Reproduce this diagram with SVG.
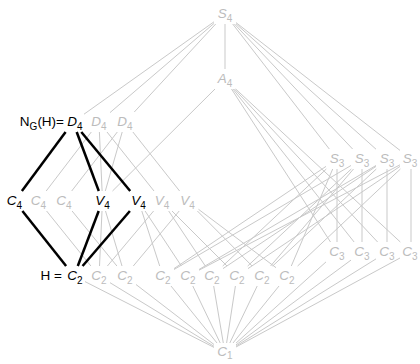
<svg xmlns="http://www.w3.org/2000/svg" width="420" height="364" viewBox="0 0 420 364">
<style>
text{font-family:"Liberation Sans","DejaVu Sans",sans-serif;font-size:13.5px;text-anchor:middle;fill:#bcbcbc}
text.k{fill:#000}
.m{font-style:italic}
.s{font-size:10px;font-style:normal}
#edges line{stroke:#c9c9c9;stroke-width:1}
#edges line.b{stroke:#000;stroke-width:2.5}
</style>
<rect width="420" height="364" fill="#fff"/>
<g id="edges">
<line x1="225" y1="24" x2="225" y2="69"/>
<line x1="214" y1="21.8" x2="84" y2="114.2"/>
<line x1="214" y1="23.4" x2="110" y2="112.6"/>
<line x1="215.7" y1="24" x2="134.3" y2="112"/>
<line x1="232.7" y1="24" x2="329.3" y2="149"/>
<line x1="234.4" y1="24" x2="352.6" y2="149"/>
<line x1="236" y1="23.8" x2="376" y2="149.2"/>
<line x1="236" y1="22.6" x2="400" y2="150.4"/>
<line x1="215" y1="89" x2="112.5" y2="191"/>
<line x1="231.5" y1="89" x2="330.5" y2="242"/>
<line x1="232.9" y1="89" x2="354.1" y2="242"/>
<line x1="234.4" y1="89" x2="377.6" y2="242"/>
<line x1="235.7" y1="89" x2="400.3" y2="242"/>
<line x1="91.3" y1="132" x2="46.2" y2="191"/>
<line x1="99.4" y1="132" x2="102.1" y2="191"/>
<line x1="107" y1="132" x2="154" y2="191"/>
<line x1="117.3" y1="132" x2="71.7" y2="191"/>
<line x1="122.2" y1="132" x2="105.3" y2="191"/>
<line x1="132.9" y1="132" x2="179.6" y2="191"/>
<line x1="337" y1="169" x2="337" y2="242"/>
<line x1="362" y1="169" x2="362" y2="242"/>
<line x1="387" y1="169" x2="387" y2="242"/>
<line x1="411" y1="169" x2="411" y2="242"/>
<line x1="326" y1="166.4" x2="174" y2="268.6"/>
<line x1="326.3" y1="169" x2="222.7" y2="266"/>
<line x1="332.7" y1="169" x2="291.3" y2="266"/>
<line x1="351" y1="165.5" x2="174" y2="269.5"/>
<line x1="351.3" y1="169" x2="247.7" y2="266"/>
<line x1="353.5" y1="169" x2="270.6" y2="266"/>
<line x1="376" y1="165.5" x2="199" y2="269.5"/>
<line x1="376" y1="166.4" x2="223" y2="268.6"/>
<line x1="376.3" y1="169" x2="272.7" y2="266"/>
<line x1="400" y1="164.8" x2="199" y2="270.2"/>
<line x1="400" y1="166.4" x2="248" y2="268.6"/>
<line x1="400.4" y1="169" x2="297.6" y2="266"/>
<line x1="46.6" y1="211" x2="90.9" y2="266"/>
<line x1="72.1" y1="211" x2="116.9" y2="266"/>
<line x1="102" y1="211" x2="99.5" y2="266"/>
<line x1="105.5" y1="211" x2="122" y2="266"/>
<line x1="141.8" y1="211" x2="159.7" y2="266"/>
<line x1="145.1" y1="211" x2="181.4" y2="266"/>
<line x1="153.6" y1="211" x2="107.4" y2="266"/>
<line x1="168.7" y1="211" x2="205.3" y2="266"/>
<line x1="172" y1="211" x2="227" y2="266"/>
<line x1="179.2" y1="211" x2="133.3" y2="266"/>
<line x1="197.4" y1="211" x2="252.1" y2="266"/>
<line x1="198.5" y1="209.3" x2="276" y2="267.7"/>
<line x1="326" y1="261.9" x2="236" y2="343.1"/>
<line x1="351" y1="260.1" x2="236" y2="344.9"/>
<line x1="376" y1="258.9" x2="236" y2="346.1"/>
<line x1="400" y1="258" x2="236" y2="347"/>
<line x1="85" y1="281.6" x2="214" y2="347.4"/>
<line x1="110" y1="282.7" x2="214" y2="346.3"/>
<line x1="136" y1="284.5" x2="214" y2="344.5"/>
<line x1="171" y1="286" x2="217" y2="343"/>
<line x1="192.8" y1="286" x2="220.2" y2="343"/>
<line x1="213.7" y1="286" x2="223.3" y2="343"/>
<line x1="235.4" y1="286" x2="226.6" y2="343"/>
<line x1="257.2" y1="286" x2="229.8" y2="343"/>
<line x1="279" y1="286" x2="233" y2="343"/>
<line class="b" x1="65.6" y1="132" x2="21.9" y2="191"/>
<line class="b" x1="76.7" y1="132" x2="98.8" y2="191"/>
<line class="b" x1="81.3" y1="132" x2="130.2" y2="191"/>
<line class="b" x1="22.4" y1="211" x2="66.1" y2="266"/>
<line class="b" x1="98.7" y1="211" x2="77.8" y2="266"/>
<line class="b" x1="129.9" y1="211" x2="82.6" y2="266"/>
</g>
<g id="S4"><text x="225" y="18"><tspan class="m">S</tspan><tspan class="s" dy="3.5">4</tspan></text></g>
<g id="A4"><text x="225" y="83"><tspan class="m">A</tspan><tspan class="s" dy="3.5">4</tspan></text></g>
<g id="D4a"><text class="k" x="64" y="126" style="text-anchor:end">N<tspan class="s" dy="3.5">G</tspan><tspan dy="-3.5">(H)=</tspan></text><text class="k" x="75" y="126"><tspan class="m">D</tspan><tspan class="s" dy="3.5">4</tspan></text></g>
<g id="D4b"><text x="99" y="126"><tspan class="m">D</tspan><tspan class="s" dy="3.5">4</tspan></text></g>
<g id="D4c"><text x="125" y="126"><tspan class="m">D</tspan><tspan class="s" dy="3.5">4</tspan></text></g>
<g id="S3a"><text x="337" y="163"><tspan class="m">S</tspan><tspan class="s" dy="3.5">3</tspan></text></g>
<g id="S3b"><text x="362" y="163"><tspan class="m">S</tspan><tspan class="s" dy="3.5">3</tspan></text></g>
<g id="S3c"><text x="387" y="163"><tspan class="m">S</tspan><tspan class="s" dy="3.5">3</tspan></text></g>
<g id="S3d"><text x="410" y="163"><tspan class="m">S</tspan><tspan class="s" dy="3.5">3</tspan></text></g>
<g id="C4a"><text class="k" x="14.5" y="205"><tspan class="m">C</tspan><tspan class="s" dy="3.5">4</tspan></text></g>
<g id="C4b"><text x="38.5" y="205"><tspan class="m">C</tspan><tspan class="s" dy="3.5">4</tspan></text></g>
<g id="C4c"><text x="64" y="205"><tspan class="m">C</tspan><tspan class="s" dy="3.5">4</tspan></text></g>
<g id="V4a"><text class="k" x="102.5" y="205"><tspan class="m">V</tspan><tspan class="s" dy="3.5">4</tspan></text></g>
<g id="V4b"><text class="k" x="138.5" y="205"><tspan class="m">V</tspan><tspan class="s" dy="3.5">4</tspan></text></g>
<g id="V4c"><text x="162" y="205"><tspan class="m">V</tspan><tspan class="s" dy="3.5">4</tspan></text></g>
<g id="V4d"><text x="187.5" y="205"><tspan class="m">V</tspan><tspan class="s" dy="3.5">4</tspan></text></g>
<g id="C3a"><text x="337" y="256"><tspan class="m">C</tspan><tspan class="s" dy="3.5">3</tspan></text></g>
<g id="C3b"><text x="362" y="256"><tspan class="m">C</tspan><tspan class="s" dy="3.5">3</tspan></text></g>
<g id="C3c"><text x="387" y="256"><tspan class="m">C</tspan><tspan class="s" dy="3.5">3</tspan></text></g>
<g id="C3d"><text x="410" y="256"><tspan class="m">C</tspan><tspan class="s" dy="3.5">3</tspan></text></g>
<g id="C2a"><text class="k" x="62" y="280" style="text-anchor:end">H =</text><text class="k" x="75" y="280"><tspan class="m">C</tspan><tspan class="s" dy="3.5">2</tspan></text></g>
<g id="C2b"><text x="99" y="280"><tspan class="m">C</tspan><tspan class="s" dy="3.5">2</tspan></text></g>
<g id="C2c"><text x="125" y="280"><tspan class="m">C</tspan><tspan class="s" dy="3.5">2</tspan></text></g>
<g id="C2d"><text x="163" y="280"><tspan class="m">C</tspan><tspan class="s" dy="3.5">2</tspan></text></g>
<g id="C2e"><text x="188" y="280"><tspan class="m">C</tspan><tspan class="s" dy="3.5">2</tspan></text></g>
<g id="C2f"><text x="212" y="280"><tspan class="m">C</tspan><tspan class="s" dy="3.5">2</tspan></text></g>
<g id="C2g"><text x="237" y="280"><tspan class="m">C</tspan><tspan class="s" dy="3.5">2</tspan></text></g>
<g id="C2h"><text x="262" y="280"><tspan class="m">C</tspan><tspan class="s" dy="3.5">2</tspan></text></g>
<g id="C2i"><text x="287" y="280"><tspan class="m">C</tspan><tspan class="s" dy="3.5">2</tspan></text></g>
<g id="C1"><text x="225" y="356"><tspan class="m">C</tspan><tspan class="s" dy="3">1</tspan></text></g>
</svg>
